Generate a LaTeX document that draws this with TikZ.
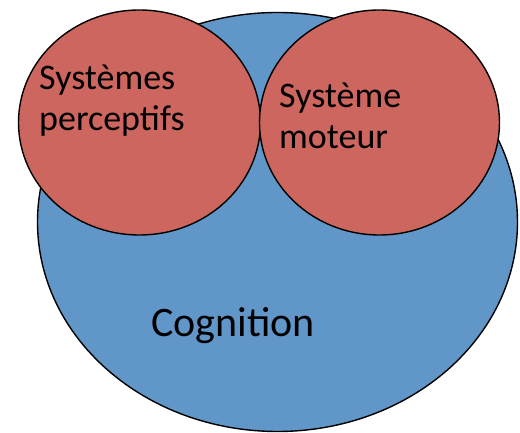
\documentclass[tikz,border=0pt]{standalone}
\usepackage{fontspec}
\setmainfont{Carlito}
\usetikzlibrary{shapes.geometric}
\definecolor{cogblue}{RGB}{97,150,201}
\definecolor{sysred}{RGB}{205,102,95}
\tikzset{
  blob/.style={ellipse, draw=black, line width=1.4pt, inner sep=0pt},
  lbl/.style={anchor=base west, inner sep=0pt, font=\fontsize{36}{41}\selectfont},
  biglbl/.style={anchor=base west, inner sep=0pt, font=\fontsize{42}{48}\selectfont}
}
\begin{document}
\begin{tikzpicture}[x=1pt,y=1pt]
  \useasboundingbox (0,0) rectangle (520,433);
  % Cognition encloses both systems
  \node[blob, fill=cogblue, minimum width=480pt, minimum height=419pt] (cog) at (277.5,211) {};
  \node[blob, fill=sysred, minimum width=242pt, minimum height=225pt] (perc) at (139.5,310.5) {};
  \node[blob, fill=sysred, minimum width=240pt, minimum height=225pt] (mot) at (379.5,310.5) {};
  % labels
  \node[lbl] (perc1) at (39,343) {Systèmes};
  \node[lbl] (perc2) at (39,302) {perceptifs};
  \node[lbl] (mot1) at (279,325) {Système};
  \node[lbl] (mot2) at (279,284) {moteur};
  \node[biglbl] (coglbl) at (151,96) {Cognition};
\end{tikzpicture}
\end{document}
